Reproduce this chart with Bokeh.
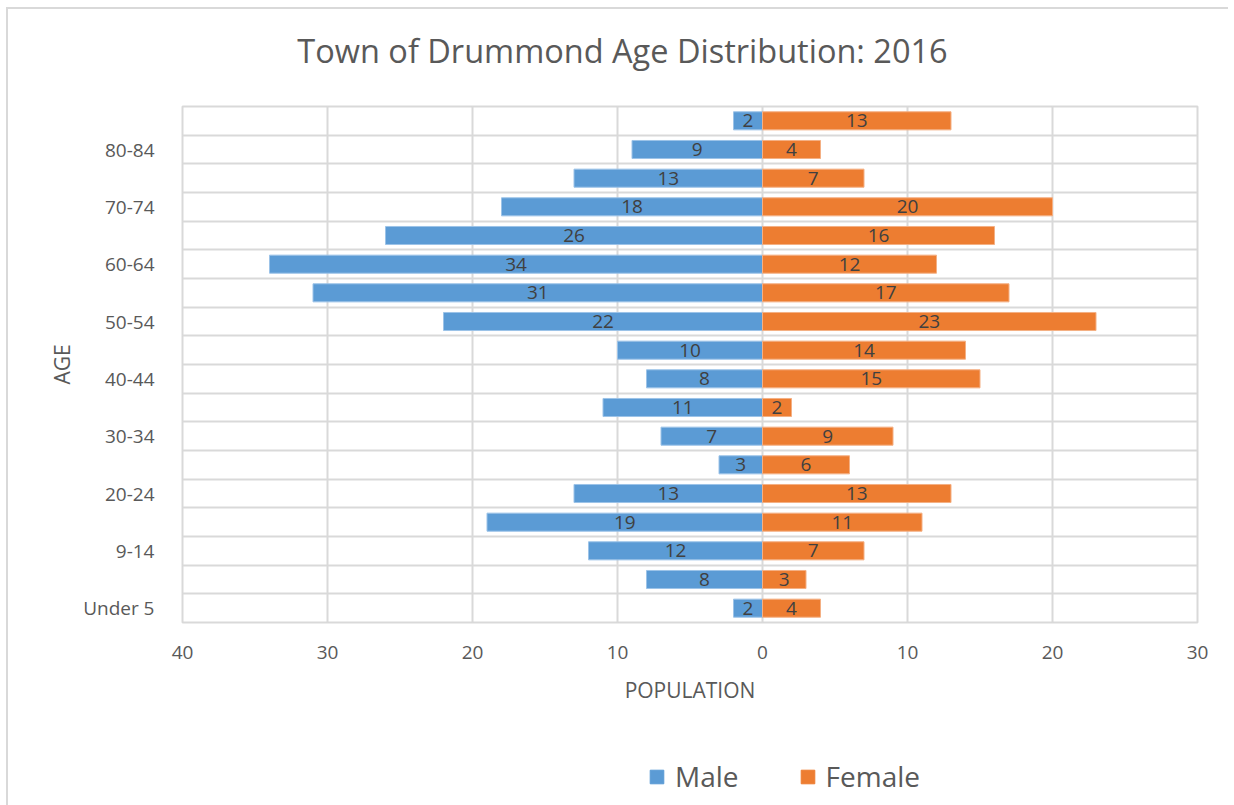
from bokeh.plotting import figure
from bokeh.layouts import column
from bokeh.models import ColumnDataSource, FixedTicker, Legend, LegendItem, Range1d
from bokeh.core.properties import value
from bokeh.embed import file_html
from bokeh.resources import INLINE

title_text = "Town of Drummond Age Distribution: 2016"
age_groups = ["Under 5", "5-8", "9-14", "15-19", "20-24", "25-29", "30-34", "35-39",
              "40-44", "45-49", "50-54", "55-59", "60-64", "65-69", "70-74", "75-79",
              "80-84", "85+"]
male = [2, 8, 12, 19, 13, 3, 7, 11, 8, 10, 22, 31, 34, 26, 18, 13, 9, 2]
female = [4, 3, 7, 11, 13, 6, 9, 2, 15, 14, 23, 17, 12, 16, 20, 7, 4, 13]
x_ticks = [-40, -30, -20, -10, 0, 10, 20, 30]
series_names = ["Male", "Female"]

MALE_C = "#5B9BD5"
FEMALE_C = "#ED7D31"
GRID_C = "#d9d9d9"
TEXT_C = "#595959"
FONT = "Open Sans"
W = 1220


def blank_fig(h):
    f = figure(width=W, height=h, frame_width=W, frame_height=h,
               output_backend="svg", toolbar_location=None,
               x_range=Range1d(0, W), y_range=Range1d(0, h),
               x_axis_type=None, y_axis_type=None,
               min_border_left=0, min_border_right=0, min_border_top=0, min_border_bottom=0)
    f.outline_line_color = None
    f.xgrid.visible = False
    f.ygrid.visible = False
    return f


# ---- title strip ----
head = blank_fig(95)
head.text(x=[440], y=[54], text=[title_text], text_align="center", text_baseline="middle",
          text_font=value(FONT), text_font_size="32.5px", text_color=TEXT_C)

# ---- main chart ----
idx = list(range(len(age_groups)))
src = ColumnDataSource(dict(
    y=idx,
    m_left=[-v for v in male],
    m_mid=[-v / 2 for v in male],
    m_lab=[str(v) for v in male],
    f_right=female,
    f_mid=[v / 2 for v in female],
    f_lab=[str(v) for v in female],
))

p = figure(width=W, height=641, output_backend="svg", toolbar_location=None,
           x_range=Range1d(-40, 30), y_range=Range1d(-0.5, len(age_groups) - 0.5),
           frame_width=1015, frame_height=516,
           min_border_left=174, min_border_right=31, min_border_top=2, min_border_bottom=123)

p.hbar(y="y", left="m_left", right=0, height=0.63, source=src,
       fill_color=MALE_C, line_color="#9cc3e8", line_width=1)
p.hbar(y="y", left=0, right="f_right", height=0.63, source=src,
       fill_color=FEMALE_C, line_color="#f4b084", line_width=1)

p.text(x="m_mid", y="y", text="m_lab", source=src, text_align="center",
       text_baseline="middle", text_font=value(FONT), text_font_size="19px",
       text_color="#404040")
p.text(x="f_mid", y="y", text="f_lab", source=src, text_align="center",
       text_baseline="middle", text_font=value(FONT), text_font_size="19px",
       text_color="#404040")

p.xaxis.ticker = FixedTicker(ticks=x_ticks)
p.xaxis.major_label_overrides = {t: str(abs(t)) for t in x_ticks}
p.yaxis.ticker = FixedTicker(ticks=idx[::2])
p.yaxis.major_label_overrides = {i: age_groups[i] for i in idx[::2]}
for ax in (p.xaxis[0], p.yaxis[0]):
    ax.axis_line_color = None
    ax.major_tick_line_color = None
    ax.minor_tick_line_color = None
    ax.major_label_text_font = FONT
    ax.major_label_text_font_size = "19px"
    ax.major_label_text_color = TEXT_C
    ax.axis_label_text_font = FONT
    ax.axis_label_text_font_size = "21px"
    ax.axis_label_text_font_style = "normal"
    ax.axis_label_text_color = TEXT_C
p.xaxis.axis_label = "POPULATION"
p.yaxis.axis_label = "AGE"
p.xaxis.major_label_standoff = 17
p.xaxis.axis_label_standoff = 14
p.yaxis.major_label_standoff = 22
p.yaxis.axis_label_standoff = 4

p.xgrid.ticker = FixedTicker(ticks=x_ticks)
p.ygrid.ticker = FixedTicker(ticks=[i - 0.5 for i in range(len(age_groups) + 1)])
p.xgrid.grid_line_color = GRID_C
p.ygrid.grid_line_color = GRID_C
p.xgrid.grid_line_width = 2
p.ygrid.grid_line_width = 2
p.outline_line_color = GRID_C
p.outline_line_width = 2

# ---- legend strip ----
leg = blank_fig(60)
# one point far outside the visible range, so only the legend swatches show
lm = leg.hbar(y=[-1000], right=[1], height=1, fill_color=MALE_C, line_color=MALE_C)
lf = leg.hbar(y=[-1000], right=[1], height=1, fill_color=FEMALE_C, line_color=FEMALE_C)
legend = Legend(items=[LegendItem(label=series_names[0], renderers=[lm]),
                       LegendItem(label=series_names[1], renderers=[lf])],
                orientation="horizontal", location=(640, 10),
                label_text_font=FONT, label_text_font_size="28px",
                label_text_color=TEXT_C, glyph_width=17, glyph_height=17,
                label_standoff=10, spacing=60, border_line_color=None,
                background_fill_alpha=0, margin=0, padding=4)
leg.add_layout(legend, "center")

layout = column(head, p, leg, spacing=0)
layout.styles = {"border-left": "2px solid #d9d9d9", "border-top": "2px solid #d9d9d9",
                 "margin-left": "6px", "margin-top": "7px"}

open("out.html", "w").write(file_html(layout, INLINE))
